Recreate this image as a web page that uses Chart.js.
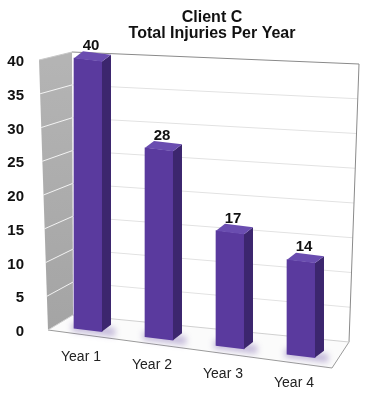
<!DOCTYPE html>
<html>
<head>
<meta charset="utf-8">
<script src="https://cdn.jsdelivr.net/npm/chart.js@4.4.1/dist/chart.umd.min.js"></script>
<style>
  html, body { margin: 0; padding: 0; background: #fff; }
</style>
</head>
<body>
<canvas id="injury-chart" width="374" height="400"></canvas>
<script>
  const titleLines = ["Client C", "Total Injuries Per Year"];
  const categories = ["Year 1", "Year 2", "Year 3", "Year 4"];
  const injuries = [40, 28, 17, 14];
  const yMax = 40;
  const yStep = 5;

  const FONT = '"Liberation Sans", Arial, sans-serif';
  const SLOPE = 0.122; // floor tilt, px down per px right
  const LIFT = -8;
  const DEPTH_X = 9;
  const DEPTH_Y = -8;
  const FRONT = "#5a3a9e";
  const SIDE = "#3c266e";
  const TOP = "#6a4db0";

  function lift(x, area) {
    return SLOPE * (x - area.left) + LIFT;
  }

  function lerp(a, b, t) {
    return a + (b - a) * t;
  }

  // corners of the box the bars stand in, taken from the chart area
  function boxPoint(edge, t, area) {
    const L = area.left, R = area.right, T = area.top, B = area.bottom;
    if (edge === "frontLeft") {
      return [lerp(L + 8, L - 1, t), lerp(B - 2, T - 2, t)];
    }
    if (edge === "backLeft") {
      return [lerp(L + 33, L + 32, t), lerp(B - 17, T - 10, t)];
    }
    return [lerp(R - 10, R, t), lerp(B + 10, T + 2, t)];
  }

  function line(ctx, a, b) {
    ctx.beginPath();
    ctx.moveTo(a[0], a[1]);
    ctx.lineTo(b[0], b[1]);
    ctx.stroke();
  }

  const boxPlugin = {
    id: "box3d",
    beforeDatasetsDraw(chart) {
      const ctx = chart.ctx;
      const area = chart.chartArea;
      const yScale = chart.scales.y;
      const span = yScale.getPixelForValue(0) - yScale.getPixelForValue(yMax);
      ctx.save();

      // floor
      const fl0 = boxPoint("frontLeft", 0, area);
      const bl0 = boxPoint("backLeft", 0, area);
      const br0 = boxPoint("backRight", 0, area);
      const fr = [area.right - 27, area.bottom + 36];
      ctx.fillStyle = "#fbfbfb";
      ctx.beginPath();
      ctx.moveTo(fl0[0], fl0[1]);
      ctx.lineTo(fr[0], fr[1]);
      ctx.lineTo(br0[0], br0[1]);
      ctx.lineTo(bl0[0], bl0[1]);
      ctx.closePath();
      ctx.fill();

      // left wall
      const fl1 = boxPoint("frontLeft", 1, area);
      const bl1 = boxPoint("backLeft", 1, area);
      const grad = ctx.createLinearGradient(0, area.top, 0, area.bottom);
      grad.addColorStop(0, "#b4b4b4");
      grad.addColorStop(1, "#a4a4a4");
      ctx.fillStyle = grad;
      ctx.beginPath();
      ctx.moveTo(fl0[0], fl0[1]);
      ctx.lineTo(fl1[0], fl1[1]);
      ctx.lineTo(bl1[0], bl1[1]);
      ctx.lineTo(bl0[0], bl0[1]);
      ctx.closePath();
      ctx.fill();

      // grid lines on both walls
      ctx.lineWidth = 1;
      yScale.ticks.forEach((tick) => {
        if (tick.value === 0 || tick.value === yMax) {
          return;
        }
        const t = (yScale.getPixelForValue(0) - yScale.getPixelForValue(tick.value)) / span;
        ctx.strokeStyle = "rgba(255,255,255,0.85)";
        line(ctx, boxPoint("frontLeft", t, area), boxPoint("backLeft", t, area));
        ctx.strokeStyle = "#e2e2e2";
        line(ctx, boxPoint("backLeft", t, area), boxPoint("backRight", t, area));
      });

      // outlines
      ctx.strokeStyle = "#8a8a8a";
      line(ctx, bl1, boxPoint("backRight", 1, area));
      line(ctx, boxPoint("backRight", 1, area), br0);
      ctx.strokeStyle = "#9a9a9a";
      line(ctx, fl0, fr);
      line(ctx, fr, br0);
      ctx.strokeStyle = "#d0d0d0";
      line(ctx, bl0, br0);
      line(ctx, fl0, bl0);
      ctx.strokeStyle = "#c8c8c8";
      line(ctx, fl1, bl1);

      // skew the bars onto the tilted floor
      ctx.transform(1, SLOPE, 0, 1, 0, -SLOPE * area.left + LIFT);

      // soft shadow under each bar
      const meta = chart.getDatasetMeta(0);
      ctx.filter = "blur(3px)";
      ctx.fillStyle = "rgba(80,50,150,0.35)";
      meta.data.forEach((bar) => {
        const p = bar.getProps(["x", "base", "width"], true);
        ctx.fillRect(p.x - p.width / 2 - 2, p.base - 5, p.width + DEPTH_X + 6, 8);
      });
      ctx.filter = "none";
    },
    afterDatasetsDraw(chart) {
      const ctx = chart.ctx;
      const meta = chart.getDatasetMeta(0);
      meta.data.forEach((bar) => {
        const p = bar.getProps(["x", "y", "base", "width"], true);
        const l = p.x - p.width / 2;
        const r = p.x + p.width / 2;
        // side face
        ctx.fillStyle = SIDE;
        ctx.beginPath();
        ctx.moveTo(r, p.base);
        ctx.lineTo(r, p.y);
        ctx.lineTo(r + DEPTH_X, p.y + DEPTH_Y);
        ctx.lineTo(r + DEPTH_X, p.base + DEPTH_Y);
        ctx.closePath();
        ctx.fill();
        // top face
        ctx.fillStyle = TOP;
        ctx.beginPath();
        ctx.moveTo(l, p.y);
        ctx.lineTo(r, p.y);
        ctx.lineTo(r + DEPTH_X, p.y + DEPTH_Y);
        ctx.lineTo(l + DEPTH_X, p.y + DEPTH_Y);
        ctx.closePath();
        ctx.fill();
      });
      ctx.restore();
    },
    afterDraw(chart) {
      const ctx = chart.ctx;
      const area = chart.chartArea;
      const meta = chart.getDatasetMeta(0);
      ctx.save();
      ctx.textAlign = "center";
      ctx.textBaseline = "middle";
      ctx.fillStyle = "#111";

      // title
      ctx.font = "bold 16px " + FONT;
      titleLines.forEach((text, i) => {
        ctx.fillText(text, chart.width / 2 + 25, 18 + i * 16);
      });

      meta.data.forEach((bar, i) => {
        const p = bar.getProps(["x", "y", "base"], true);
        const off = lift(p.x, area);
        ctx.font = "bold 15px " + FONT;
        ctx.fillStyle = "#111";
        ctx.fillText(String(injuries[i]), p.x + 3, p.y + off - 14);
        ctx.font = "14px " + FONT;
        ctx.fillStyle = "#222";
        ctx.fillText(categories[i], p.x - 7, p.base + off + 27);
      });
      ctx.restore();
    },
  };

  new Chart(document.getElementById("injury-chart"), {
    type: "bar",
    data: {
      datasets: [
        {
          label: "Total Injuries",
          data: injuries.map((v, i) => ({ x: i, y: v })),
          backgroundColor: FRONT,
          borderWidth: 0,
          barThickness: 28,
          clip: false,
        },
      ],
    },
    options: {
      responsive: false,
      animation: false,
      layout: {
        padding: { top: 62, right: 15, bottom: 68, left: 0 },
      },
      plugins: {
        legend: { display: false },
        tooltip: { enabled: false },
        title: { display: false },
      },
      scales: {
        x: {
          type: "linear",
          offset: false,
          min: -0.676,
          max: 3.817,
          display: false,
        },
        y: {
          min: 0,
          max: yMax,
          afterFit: (scale) => {
            scale.width = 40;
          },
          ticks: {
            stepSize: yStep,
            padding: 8,
            color: "#111",
            font: { family: FONT, size: 15, weight: "bold" },
          },
          grid: { display: false },
          border: { display: false },
        },
      },
    },
    plugins: [boxPlugin],
  });
</script>
</body>
</html>
